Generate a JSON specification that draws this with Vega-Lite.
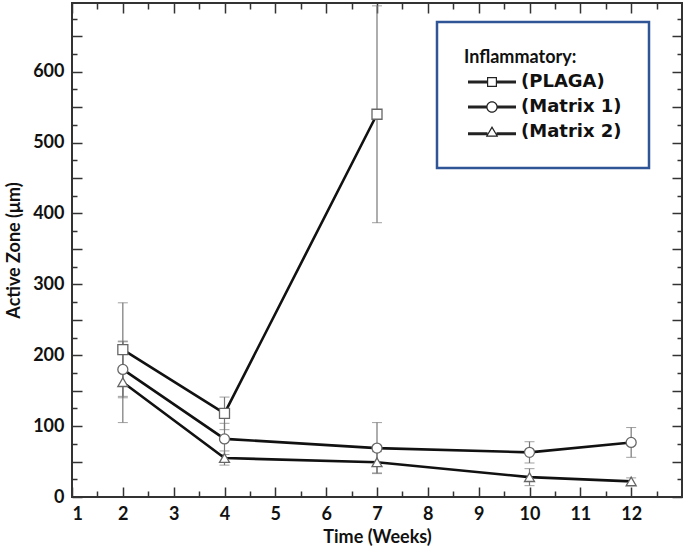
{
  "$schema": "https://vega.github.io/schema/vega-lite/v6.json",
  "width": 610,
  "height": 494,
  "autosize": {"type": "none"},
  "padding": {"left": 72, "top": 3, "right": 3, "bottom": 51},
  "background": "white",
  "config": {
    "view": {"stroke": "#333", "strokeWidth": 2},
    "font": "Lato",
    "axis": {
      "domain": false, "grid": false, "tickColor": "#333", "tickWidth": 1.5,
      "labelFont": "Lato", "labelFontWeight": "bold", "labelFontSize": 18, "labelColor": "#111",
      "titleFont": "Lato", "titleFontWeight": "bold", "titleFontSize": 18, "titleColor": "#111"
    },
    "legend": {"strokeWidth": 2.5}
  },
  "data": {
    "values": [
      {"week": 2, "group": "PLAGA", "value": 208, "lo": 142, "hi": 274},
      {"week": 4, "group": "PLAGA", "value": 118, "lo": 95, "hi": 141},
      {"week": 7, "group": "PLAGA", "value": 540, "lo": 387, "hi": 693},
      {"week": 2, "group": "Matrix 1", "value": 180, "lo": 140, "hi": 220},
      {"week": 4, "group": "Matrix 1", "value": 82, "lo": 60, "hi": 104},
      {"week": 7, "group": "Matrix 1", "value": 69, "lo": 33, "hi": 105},
      {"week": 10, "group": "Matrix 1", "value": 63, "lo": 48, "hi": 78},
      {"week": 12, "group": "Matrix 1", "value": 77, "lo": 56, "hi": 98},
      {"week": 2, "group": "Matrix 2", "value": 162, "lo": 105, "hi": 219},
      {"week": 4, "group": "Matrix 2", "value": 55, "lo": 45, "hi": 65},
      {"week": 7, "group": "Matrix 2", "value": 49, "lo": 34, "hi": 64},
      {"week": 10, "group": "Matrix 2", "value": 28, "lo": 16, "hi": 40},
      {"week": 12, "group": "Matrix 2", "value": 22, "lo": 17, "hi": 27}
    ]
  },
  "layer": [
    {
      "mark": {"type": "errorbar", "ticks": {"size": 10, "color": "#777", "strokeWidth": 1.2}, "rule": {"color": "#777", "strokeWidth": 1.2}},
      "encoding": {
        "x": {
          "field": "week", "type": "quantitative",
          "scale": {"domain": [1, 13], "nice": false, "zero": false},
          "axis": {
            "orient": "bottom", "title": "Time (Weeks)", "titlePadding": 5, "labelPadding": 18,
            "values": [1, 1.5, 2, 2.5, 3, 3.5, 4, 4.5, 5, 5.5, 6, 6.5, 7, 7.5, 8, 8.5, 9, 9.5, 10, 10.5, 11, 11.5, 12, 12.5],
            "labelExpr": "datum.value % 1 === 0 ? format(datum.value, 'd') : ''",
            "tickSize": {"condition": {"test": "datum.value % 1 === 0", "value": -10}, "value": -6}
          }
        },
        "y": {
          "field": "lo", "type": "quantitative",
          "scale": {"domain": [0, 697], "nice": false},
          "axis": {
            "orient": "left", "title": "Active Zone (μm)", "titlePadding": 9, "labelPadding": 18,
            "values": [0, 25, 50, 75, 100, 125, 150, 175, 200, 225, 250, 275, 300, 325, 350, 375, 400, 425, 450, 475, 500, 525, 550, 575, 600, 625, 650, 675],
            "labelExpr": "datum.value % 100 === 0 ? datum.label : ''",
            "tickSize": {"condition": {"test": "datum.value % 50 === 0", "value": -10}, "value": -5}
          }
        },
        "y2": {"field": "hi"}
      }
    },
    {
      "mark": {"type": "line", "color": "#111", "strokeWidth": 2.6},
      "encoding": {
        "x": {
          "field": "week", "type": "quantitative",
          "axis": {
            "orient": "top", "title": null, "labels": false,
            "values": [1, 1.5, 2, 2.5, 3, 3.5, 4, 4.5, 5, 5.5, 6, 6.5, 7, 7.5, 8, 8.5, 9, 9.5, 10, 10.5, 11, 11.5, 12, 12.5],
            "tickSize": {"condition": {"test": "datum.value % 1 === 0", "value": -10}, "value": -6}
          }
        },
        "y": {
          "field": "value", "type": "quantitative",
          "axis": {
            "orient": "right", "title": null, "labels": false,
            "values": [0, 25, 50, 75, 100, 125, 150, 175, 200, 225, 250, 275, 300, 325, 350, 375, 400, 425, 450, 475, 500, 525, 550, 575, 600, 625, 650, 675],
            "tickSize": {"condition": {"test": "datum.value % 50 === 0", "value": -10}, "value": -5}
          }
        },
        "detail": {"field": "group"}
      }
    },
    {
      "mark": {"type": "point", "filled": true, "fill": "white", "stroke": "#666", "strokeWidth": 1.3, "opacity": 1, "size": 100},
      "encoding": {
        "x": {"field": "week", "type": "quantitative", "axis": null},
        "y": {"field": "value", "type": "quantitative", "axis": null},
        "shape": {
          "field": "group", "type": "nominal",
          "scale": {"domain": ["PLAGA", "Matrix 1", "Matrix 2"], "range": ["square", "circle", "triangle-up"]},
          "legend": null
        }
      }
    },
    {
      "mark": {"type": "point", "filled": true, "color": "#222", "opacity": 0, "size": 100},
      "encoding": {
        "x": {"field": "week", "type": "quantitative", "axis": null},
        "y": {"field": "value", "type": "quantitative", "axis": null},
        "shape": {
          "field": "group", "type": "nominal",
          "scale": {
            "domain": ["PLAGA", "Matrix 1", "Matrix 2"],
            "range": [
              "M-4.8,-0.3H-1V0.3H-4.8Z M1,-0.3H4.8V0.3H1Z M-1,-1H1V1H-1Z M-0.76,-0.76V0.76H0.76V-0.76Z",
              "M-4.8,-0.3H-1.1V0.3H-4.8Z M1.1,-0.3H4.8V0.3H1.1Z M1.15,0A1.15,1.15,0,1,1,-1.15,0A1.15,1.15,0,1,1,1.15,0Z M0.9,0A0.9,0.9,0,1,0,-0.9,0A0.9,0.9,0,1,0,0.9,0Z",
              "M-4.8,0.05H-0.9V0.65H-4.8Z M0.9,0.05H4.8V0.65H0.9Z M0,-1.2L1.25,0.95L-1.25,0.95Z M0,-0.72L-0.85,0.72L0.85,0.72Z"
            ]
          },
          "legend": {
            "title": "Inflammatory:", "orient": "none", "legendX": 365, "legendY": 19,
            "strokeColor": "#2f5597", "padding": 27, "fillColor": "white",
            "titleFont": "Lato", "titleFontSize": 18, "titleFontWeight": "bold", "titleColor": "#111", "titlePadding": 6,
            "labelFont": "DejaVu Sans", "labelFontSize": 18, "labelFontWeight": "bold", "labelColor": "#111",
            "labelExpr": "'(' + datum.label + ')'",
            "symbolOpacity": 1, "symbolFillColor": "#222", "symbolStrokeWidth": 0,
            "symbolOffset": 19, "labelOffset": 20, "rowPadding": 7
          }
        }
      }
    }
  ],
  "resolve": {"axis": {"x": "independent", "y": "independent"}, "scale": {"shape": "independent"}}
}
